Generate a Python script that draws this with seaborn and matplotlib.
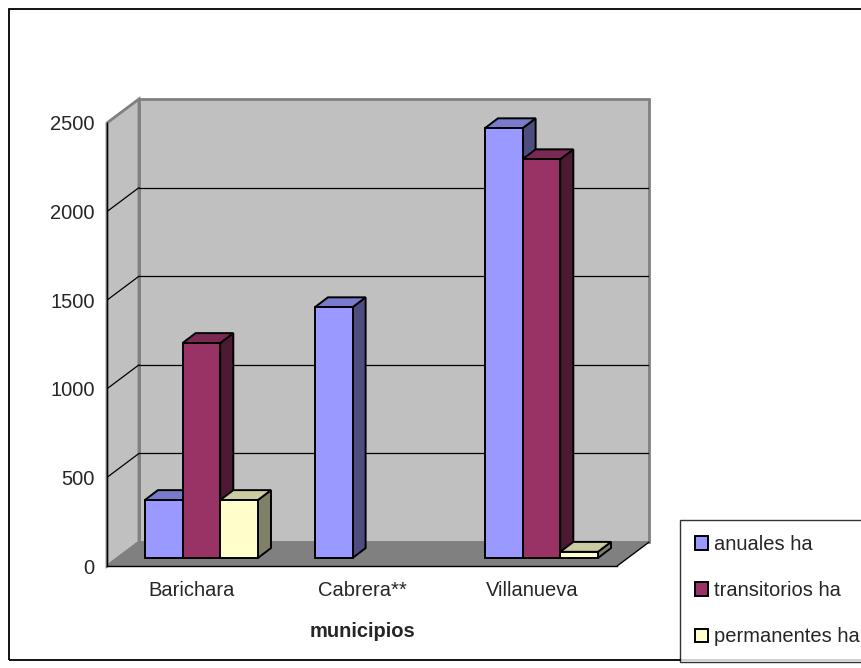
import numpy as np
import pandas as pd
import matplotlib.pyplot as plt
import matplotlib.colors as mcolors
import matplotlib.transforms as mtransforms
from matplotlib.patches import Polygon, Rectangle, Patch
import seaborn as sns

# Data (hectares per municipio)
municipios = ['Barichara', 'Cabrera**', 'Villanueva']
anuales = [327, 1415, 2425]
transitorios = [1213, np.nan, 2250]
permanentes = [327, np.nan, 35]
series = ['anuales ha', 'transitorios ha', 'permanentes ha']
colores = ['#9999FF', '#993366', '#FFFFCC']
y_ticks = [0, 500, 1000, 1500, 2000, 2500]

df = pd.DataFrame({
    'municipio': municipios * 3,
    'serie': [s for s in series for _ in municipios],
    'valor': anuales + transitorios + permanentes,
}).dropna()

sns.set_style('white')
plt.rcParams['font.family'] = ['Liberation Sans', 'DejaVu Sans']
FS = 14.5

fig = plt.figure(figsize=(8.61, 6.68), dpi=100)
ax = fig.add_axes([107 / 861, 102 / 668, 542 / 861, 467 / 668])

# 3D look: depth of the plot box and of the bars (data units)
DX, DY = 0.188, 135       # full depth of floor / walls
SX, SY = 0.055, 45        # bars sit part way back
BX, BY = 0.077, 56        # bar thickness

sns.barplot(data=df, x='municipio', y='valor', hue='serie', order=municipios,
            hue_order=series, palette=colores, saturation=1, width=0.665, errorbar=None,
            edgecolor='black', linewidth=1.4, legend=False, ax=ax)

bars = sorted(list(ax.patches), key=lambda b: b.get_x())
for i, bar in enumerate(bars):
    bar.set_x(bar.get_x() + SX)
    bar.set_y(bar.get_y() + SY)
    x0, y0, w, h = bar.get_x(), bar.get_y(), bar.get_width(), bar.get_height()
    rgb = np.array(mcolors.to_rgb(bar.get_facecolor()))
    z = 5 + i
    side = [(x0 + w, y0), (x0 + w + BX, y0 + BY), (x0 + w + BX, y0 + h + BY), (x0 + w, y0 + h)]
    top = [(x0, y0 + h), (x0 + BX, y0 + h + BY), (x0 + w + BX, y0 + h + BY), (x0 + w, y0 + h)]
    ax.add_patch(Polygon(side, closed=True, facecolor=rgb * 0.5, edgecolor='black',
                         linewidth=1.4, zorder=z, clip_on=False))
    ax.add_patch(Polygon(top, closed=True, facecolor=rgb * 0.8, edgecolor='black',
                         linewidth=1.4, zorder=z + 0.1, clip_on=False))
    bar.set_zorder(z + 0.2)
    bar.set_clip_on(False)

ymax = y_ticks[-1]
x_left, x_right = -0.5, len(municipios) - 0.5

# walls and floor
ax.add_patch(Polygon([(x_left + DX, DY), (x_right + DX, DY), (x_right + DX, ymax + DY), (x_left + DX, ymax + DY)],
                     closed=True, facecolor='#C0C0C0', edgecolor='#808080', linewidth=2, zorder=1, clip_on=False))
ax.add_patch(Polygon([(x_left, 0), (x_left + DX, DY), (x_left + DX, ymax + DY), (x_left, ymax)],
                     closed=True, facecolor='#C0C0C0', edgecolor='#808080', linewidth=2, zorder=1, clip_on=False))
ax.add_patch(Polygon([(x_left, 0), (x_right, 0), (x_right + DX, DY), (x_left + DX, DY)],
                     closed=True, facecolor='#808080', edgecolor='#808080', linewidth=1, zorder=1.5, clip_on=False))
for v in y_ticks[1:-1]:
    ax.plot([x_left + DX, x_right + DX], [v + DY, v + DY], color='black', lw=0.9, zorder=2)
    ax.plot([x_left, x_left + DX], [v, v + DY], color='black', lw=0.9, zorder=2)
ax.plot([x_right, x_right + DX], [0, DY], color='black', lw=0.9, zorder=2, clip_on=False)

ax.set_xlim(x_left, x_right + DX)
ax.set_ylim(0, ymax + DY)

# axes, ticks
for s in ['top', 'right']:
    ax.spines[s].set_visible(False)
ax.spines['left'].set_bounds(0, ymax)
ax.spines['bottom'].set_bounds(x_left, x_right)
for s in ['left', 'bottom']:
    ax.spines[s].set_color('black')
    ax.spines[s].set_linewidth(1)
    ax.spines[s].set_zorder(3)

ax.set_yticks(y_ticks)
ax.set_yticklabels([str(t) for t in y_ticks], fontsize=FS)
ax.set_xticks(np.arange(len(municipios) + 1) - 0.5)
ax.set_xticklabels([])
ax.set_xticks(range(len(municipios)), minor=True)
ax.set_xticklabels(municipios, minor=True, fontsize=FS)
ax.tick_params(axis='both', which='major', direction='out', length=5.8, width=1, color='black', pad=3)
ax.tick_params(axis='x', which='minor', length=0, pad=11)
ax.set_ylabel('')
ax.set_xlabel('municipios', fontsize=FS, fontweight='bold')
ax.xaxis.set_label_coords(1, -0.12, transform=mtransforms.blended_transform_factory(ax.transData, ax.transAxes))

# legend
handles = [Patch(facecolor=c, edgecolor='black', linewidth=1.4) for c in colores]
leg = fig.legend(handles, series, loc='upper left', bbox_to_anchor=(680 / 861, 1 - 520 / 668),
                 fontsize=FS, frameon=True, fancybox=False, shadow=False, borderpad=0.75,
                 labelspacing=1.35, handlelength=0.65, handleheight=0.65, handletextpad=0.3,
                 borderaxespad=0)
leg.get_frame().set_edgecolor('black')
leg.get_frame().set_linewidth(1)

# outer chart frame
fig.patches.append(Rectangle((9 / 868, 8 / 668), 1.0, 1 - 17 / 668, transform=fig.transFigure,
                             fill=False, edgecolor='black', linewidth=1.3, zorder=0))

fig.savefig('out.png', dpi=100)
